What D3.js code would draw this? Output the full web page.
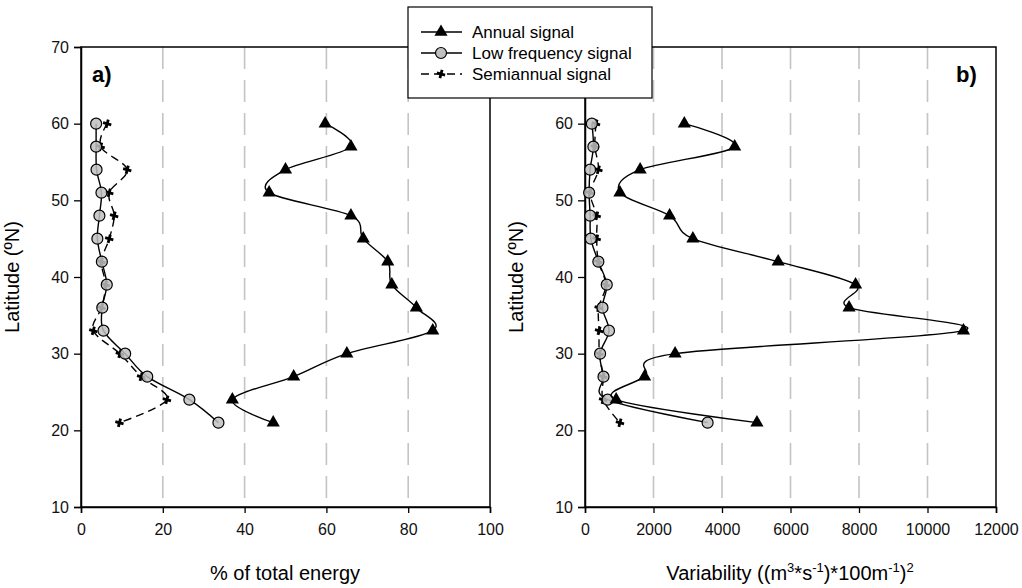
<html>
<script src='https://d3js.org/d3.v7.min.js'></script>
<style>
  body {margin: 0; background: white;}
  text {font-family: "Liberation Sans", Arial, sans-serif;}
</style>
<body onload='init()'>
<svg width=1022 height=588></svg>
<script>
// latitude of each sample (deg N)
var lat = [60, 57, 54, 51, 48, 45, 42, 39, 36, 33, 30, 27, 24, 21];

// panel a: % of total energy
var annualPct  = [59.7, 66, 50, 46, 66, 69, 75, 76, 82, 86, 65, 52, 37, 47];
var lowPct     = [3.7, 3.7, 3.8, 5.0, 4.5, 4.0, 5.1, 6.3, 5.2, 5.5, 10.8, 16.2, 26.5, 33.6];
var semiPct    = [6.4, 4.8, 11.3, 6.9, 8.1, 6.9, 5.0, 6.0, 5.0, 3.0, 9.5, 14.7, 21, 9.4];

// panel b: variability
var annualVar  = [2900, 4370, 1610, 1020, 2470, 3150, 5640, 7900, 7710, 11050, 2630, 1740, 910, 5020];
var lowVar     = [200, 245, 150, 120, 150, 170, 390, 635, 510, 700, 440, 540, 660, 3580];
var semiVar    = [320, 290, 390, 150, 340, 340, 390, 610, 400, 410, 420, 530, 530, 1020];

var xTicksA = [0, 20, 40, 60, 80, 100];
var xTicksB = [0, 2000, 4000, 6000, 8000, 10000, 12000];
var yTicksA = [10, 20, 30, 40, 50, 60, 70];
var yTicksB = [10, 20, 30, 40, 50, 60];   // the 70 of panel b sits under the legend

var seriesNames = ["Annual signal", "Low frequency signal", "Semiannual signal"];

function init() {
  var svg = d3.select("svg");
  var top = 47, bottom = 507;
  var y = d3.scaleLinear([10, 70], [bottom, top]);

  var panels = [
    {left: 81, right: 490, dom: [0, 100], ticks: xTicksA, yt: yTicksA, grid: [20, 40, 60, 80],
     series: [annualPct, lowPct, semiPct], tag: "a)", tagX: 92},
    {left: 585, right: 996, dom: [0, 12000], ticks: xTicksB, yt: yTicksB, grid: [2000, 4000, 6000, 8000, 10000],
     series: [annualVar, lowVar, semiVar], tag: "b)", tagX: 956}
  ];

  var tri = d3.symbol().type(d3.symbolTriangle).size(75);
  var cross = d3.symbol().type(d3.symbolCross).size(40);

  panels.forEach(function(p, pi) {
    var x = d3.scaleLinear(p.dom, [p.left, p.right]);
    var g = svg.append("g");

    // dashed grid
    g.selectAll(".grid").data(p.grid).enter().append("line")
      .attr("x1", d => x(d)).attr("x2", d => x(d))
      .attr("y1", top).attr("y2", bottom)
      .attr("stroke", "#c4c4c4").attr("stroke-width", 1.6)
      .attr("stroke-dasharray", "22,11");

    // frame
    g.append("rect").attr("x", p.left).attr("y", top)
      .attr("width", p.right - p.left).attr("height", bottom - top)
      .attr("fill", "none").attr("stroke", "black").attr("stroke-width", 1.5);

    var yAxis = d3.axisLeft(y).tickValues(p.yt).tickSize(7).tickPadding(5);
    var ga = g.append("g").attr("transform", "translate(" + p.left + ",0)").call(yAxis);
    var xAxis = d3.axisBottom(x).tickValues(p.ticks).tickSize(6).tickPadding(11).tickFormat(d3.format("d"));
    var gx = g.append("g").attr("transform", "translate(0," + bottom + ")").call(xAxis);
    [ga, gx].forEach(function(a) {
      a.select(".domain").attr("stroke-width", 1.5);
      a.selectAll("line").attr("stroke-width", 1.3);
      a.selectAll("text").attr("font-size", 16).attr("fill", "#111")
        .attr("font-family", "Liberation Sans, Arial, sans-serif");
    });

    g.append("text").attr("x", p.tagX).attr("y", 82).text(p.tag)
      .attr("font-size", 22).attr("font-weight", "bold");

    var line = d3.line().curve(d3.curveCatmullRom.alpha(0))
      .x(d => x(d[0])).y(d => y(d[1]));

    // semiannual (dashed)
    var semi = p.series[2].map((v, i) => [v, lat[i]]);
    g.append("path").attr("d", line(semi)).attr("fill", "none")
      .attr("stroke", "black").attr("stroke-width", 1.4).attr("stroke-dasharray", "8,5");
    g.selectAll(".sm").data(semi).enter().append("path")
      .attr("d", cross).attr("transform", d => "translate(" + x(d[0]) + "," + y(d[1]) + ") rotate(15)")
      .attr("fill", "black");

    // low frequency
    var low = p.series[1].map((v, i) => [v, lat[i]]);
    g.append("path").attr("d", line(low)).attr("fill", "none")
      .attr("stroke", "black").attr("stroke-width", 1.4);
    g.selectAll(".lm").data(low).enter().append("circle")
      .attr("cx", d => x(d[0])).attr("cy", d => y(d[1])).attr("r", 5.5)
      .attr("fill", "#c0c0c0").attr("fill-opacity", 0.85).attr("stroke", "black").attr("stroke-width", 1.2);

    // annual
    var ann = p.series[0].map((v, i) => [v, lat[i]]);
    g.append("path").attr("d", line(ann)).attr("fill", "none")
      .attr("stroke", "black").attr("stroke-width", 1.4);
    g.selectAll(".am").data(ann).enter().append("path")
      .attr("d", tri).attr("transform", d => "translate(" + x(d[0]) + "," + y(d[1]) + ")")
      .attr("fill", "black");

    // axis titles
    svg.append("text")
      .attr("transform", "translate(" + (p.left - 62) + "," + ((top + bottom) / 2) + ") rotate(-90)")
      .attr("text-anchor", "middle").attr("font-size", 20).text("Latitude (ºN)");
  });

  svg.append("text").attr("x", 285).attr("y", 580).attr("text-anchor", "middle")
    .attr("font-size", 20).text("% of total energy");
  var vt = svg.append("text").attr("x", 790).attr("y", 580).attr("text-anchor", "middle").attr("font-size", 20);
  vt.append("tspan").text("Variability ((m");
  vt.append("tspan").attr("dy", -8).attr("font-size", 13).text("3");
  vt.append("tspan").attr("dy", 8).text("*s");
  vt.append("tspan").attr("dy", -8).attr("font-size", 13).text("-1");
  vt.append("tspan").attr("dy", 8).text(")*100m");
  vt.append("tspan").attr("dy", -8).attr("font-size", 13).text("-1");
  vt.append("tspan").attr("dy", 8).text(")");
  vt.append("tspan").attr("dy", -8).attr("font-size", 13).text("2");

  // legend
  var lg = svg.append("g");
  lg.append("rect").attr("x", 408).attr("y", 7).attr("width", 244).attr("height", 91)
    .attr("fill", "white").attr("stroke", "black").attr("stroke-width", 1.2);
  seriesNames.forEach(function(name, i) {
    var ly = 32 + i * 21;
    lg.append("line").attr("x1", 421).attr("x2", 462).attr("y1", ly).attr("y2", ly)
      .attr("stroke", "black").attr("stroke-width", 1.4)
      .attr("stroke-dasharray", i == 2 ? "8,5" : null);
    if (i == 0) lg.append("path").attr("d", tri).attr("transform", "translate(441," + ly + ")");
    if (i == 1) lg.append("circle").attr("cx", 441).attr("cy", ly).attr("r", 5.5)
      .attr("fill", "#c0c0c0").attr("stroke", "black").attr("stroke-width", 1.2);
    if (i == 2) lg.append("path").attr("d", cross).attr("transform", "translate(441," + ly + ") rotate(15)");
    lg.append("text").attr("x", 472).attr("y", ly + 6).attr("font-size", 17).text(name);
  });
}
</script>
</body>
</html>
